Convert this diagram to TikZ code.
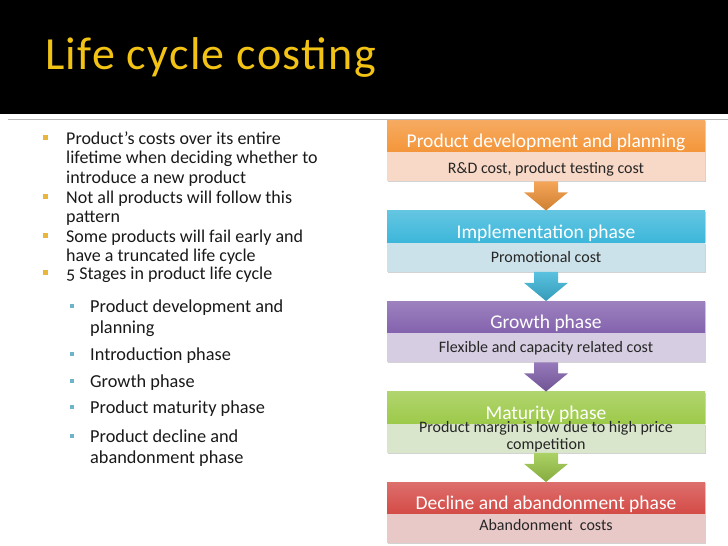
\documentclass[tikz,border=0pt]{standalone}
\usepackage{fontspec}
\setmainfont{Carlito}
\newfontfamily\ttlfont[LetterSpace=3]{Carlito}
\usetikzlibrary{calc,shadows}
\newcommand\blines[1]{\begin{tabular}[t]{@{}l@{}}#1\end{tabular}}
\definecolor{titleY}{HTML}{F2C314}
\definecolor{bulY}{HTML}{E9B53A}
\definecolor{bulB}{HTML}{6FB3C9}
\definecolor{orgH}{HTML}{F4963A}
\definecolor{orgL}{HTML}{F8D8C6}
\definecolor{bluH}{HTML}{3DB7DA}
\definecolor{bluL}{HTML}{CCE2EA}
\definecolor{purH}{HTML}{8462AE}
\definecolor{purL}{HTML}{D6CDE2}
\definecolor{grnH}{HTML}{9DCA4A}
\definecolor{grnL}{HTML}{D9E6CC}
\definecolor{redH}{HTML}{D44B47}
\definecolor{redL}{HTML}{E9C9C8}
\begin{document}
\begin{tikzpicture}[x=1pt,y=-1pt,
  phase/.style={anchor=north,minimum width=318pt,minimum height=31.5pt,inner sep=0pt,
    text height=27.5pt,text depth=4pt,text=white,font=\fontsize{19.5}{22}\selectfont,
    drop shadow={shadow xshift=1.2pt,shadow yshift=-1.2pt,opacity=.35}},
  cost/.style={anchor=north,minimum width=318pt,minimum height=29pt,inner sep=0pt,
    align=center,text=black!85,font=\fontsize{16}{17}\selectfont,
    drop shadow={shadow xshift=1.2pt,shadow yshift=-1.2pt,opacity=.35}},
  lvla/.style={anchor=base west,inner sep=0pt,text=black!90,font=\fontsize{18}{19.6}\selectfont},
  lvlb/.style={lvla,font=\fontsize{18.3}{21.5}\selectfont}]
\useasboundingbox (0,0) rectangle (728,546);
% header
\fill[black] (0,0) rectangle (728,113.5);
\draw[gray!55,line width=0.8pt] (8,119) -- (728,119);
\node[anchor=base west,inner sep=0pt,text=titleY,font=\ttlfont\fontsize{46}{50}\selectfont] (title) at (45,69) {Life cycle costing};
% bullets
\node[lvla] (b1) at (66,144) {\blines{Product’s costs over its entire\\lifetime when deciding whether to\\introduce a new product}};
\node[lvla] (b2) at (66,203) {\blines{Not all products will follow this\\pattern}};
\node[lvla] (b3) at (66,242) {\blines{Some products will fail early and\\have a truncated life cycle}};
\node[lvla] (b4) at (66,279) {{\addfontfeature{Numbers=OldStyle}5} Stages in product life cycle};
\node[lvlb] (s1) at (90,312) {\blines{Product development and\\planning}};
\node[lvlb] (s2) at (90,360) {Introduction phase};
\node[lvlb] (s3) at (90,387) {Growth phase};
\node[lvlb] (s4) at (90,413) {Product maturity phase};
\node[lvlb] (s5) at (90,442) {\blines{Product decline and\\abandonment phase}};
\foreach \b in {b1,b2,b3,b4}
  \fill[bulY] ($(\b.base west)+(-23,-9.5)$) rectangle ++(5,5);
\foreach \b in {s1,s2,s3,s4,s5}
  \fill[bulB] ($(\b.base west)+(-20,-8)$) rectangle ++(4,4);
% stages
\foreach \n/\col/\dep/\ttl/\cst in {1/org/8/{Product development and planning}/{R\&D cost, product testing cost},
    2/blu/9/{Implementation phase}/{Promotional cost},
    3/pur/10/{Growth phase}/{Flexible and capacity related cost},
    4/grn/3/{Maturity phase}/{Product margin is low due to high price\\competition},
    5/red/12.5/{Decline and abandonment phase}/{Abandonment~ costs}}{
  \node[phase,top color=\col H!80!white,bottom color=\col H] (h\n) at (546,{120+90.5*(\n-1)}) {\ttl};
  \node[cost,fill=\col L,text depth=\dep pt,text height={29pt-\dep pt}] (c\n) at (h\n.south) {\cst};
}
\foreach \a/\b/\col in {1/2/org,2/3/blu,3/4/pur,4/5/grn}
  \shade[top color=\col H!85!white,bottom color=\col H!85!black]
    ($(c\a.south)+(-12,0)$) -- ($(c\a.south)+(-12,11)$) -- ($(c\a.south)+(-22,11)$) -- (h\b.north)
    -- ($(c\a.south)+(22,11)$) -- ($(c\a.south)+(12,11)$) -- ($(c\a.south)+(12,0)$) -- cycle;
\end{tikzpicture}
\end{document}
